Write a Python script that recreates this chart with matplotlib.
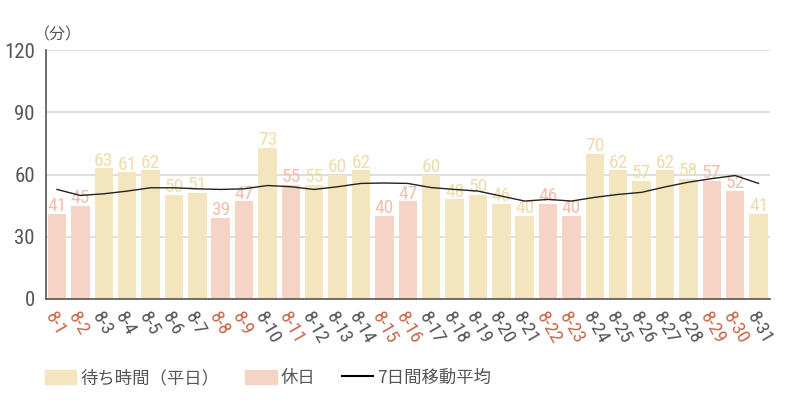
import matplotlib
matplotlib.use("Agg")
import matplotlib.pyplot as plt
from matplotlib.patches import Patch
from matplotlib.lines import Line2D

num_font = ['Roboto Condensed', 'DejaVu Sans']
jp_font = ['Noto Sans CJK JP', 'DejaVu Sans']
plt.rcParams['font.family'] = num_font

days = list(range(1, 32))
labels = ['8-%d' % d for d in days]
wait = [41, 45, 63, 61, 62, 50, 51, 39, 47, 73, 55, 55, 60, 62, 40, 47,
        60, 48, 50, 46, 40, 46, 40, 70, 62, 57, 62, 58, 57, 52, 41]
holidays = [1, 2, 8, 9, 11, 15, 16, 22, 23, 29, 30]
avg7 = [52.8, 49.9, 50.7, 52.0, 53.6, 53.6, 53.1, 52.8, 53.1, 54.7, 54.1,
        52.8, 54.1, 55.7, 55.9, 55.7, 53.7, 52.8, 52.0, 49.6, 47.2, 48.0,
        47.2, 49.0, 50.4, 51.4, 54.0, 56.3, 58.0, 59.5, 55.7]

c_week = '#f3e5bd'
c_hol = '#f5d3c5'
t_week = '#efdcaa'
t_hol = '#f2bfae'
x_hol = '#c8694e'
grey = '#555555'

fig = plt.figure(figsize=(8, 4), dpi=100)
ax = fig.add_axes([0.0575, 0.2525, 0.905, 0.6225])

x = list(range(len(days)))
cols = [c_hol if d in holidays else c_week for d in days]
ax.bar(x, wait, width=0.79, color=cols, zorder=2)
for xi, d, v in zip(x, days, wait):
    ax.text(xi, v - 0.6, str(v), ha='center', va='bottom', fontsize=14,
            color=t_hol if d in holidays else t_week, zorder=3)

ax.plot(x, avg7, color='#222222', lw=1.0, zorder=4)

ax.set_ylim(0, 120)
ax.set_xlim(-0.47, len(days) - 0.51)
ax.set_yticks([0, 30, 60, 90, 120])
ax.yaxis.grid(True, color='#d8d8d8', lw=1.2, zorder=0)
ax.set_axisbelow(True)
for s in ['top', 'right']:
    ax.spines[s].set_visible(False)
ax.spines['left'].set_color(grey)
ax.spines['bottom'].set_color(grey)
ax.spines['left'].set_linewidth(1.2)
ax.spines['bottom'].set_linewidth(1.2)
ax.tick_params(axis='y', length=0, labelsize=15, labelcolor=grey, pad=8)
ax.tick_params(axis='x', length=0, labelsize=14, pad=7)
ax.set_xticks(x)
ax.set_xticklabels(labels, rotation=-60, ha='left', va='top', rotation_mode='anchor')
for lab, d in zip(ax.get_xticklabels(), days):
    lab.set_color(x_hol if d in holidays else grey)

fig.text(0.042, 0.912, '（分）', fontsize=11.5, color=grey, ha='left', va='center',
         family=jp_font)

handles = [Patch(color=c_week), Patch(color=c_hol), Line2D([0], [0], color='black', lw=1.5)]
fig.legend(handles, ['待ち時間（平日）', '休日', '7日間移動平均'], loc='center left',
           bbox_to_anchor=(0.056, 0.055), ncol=3, frameon=False,
           prop={'family': jp_font, 'size': 12.5}, borderpad=0, borderaxespad=0,
           labelcolor=grey, handlelength=1.8, handleheight=0.9, columnspacing=1.5,
           handletextpad=0.25)

fig.savefig('out.png', dpi=100)
